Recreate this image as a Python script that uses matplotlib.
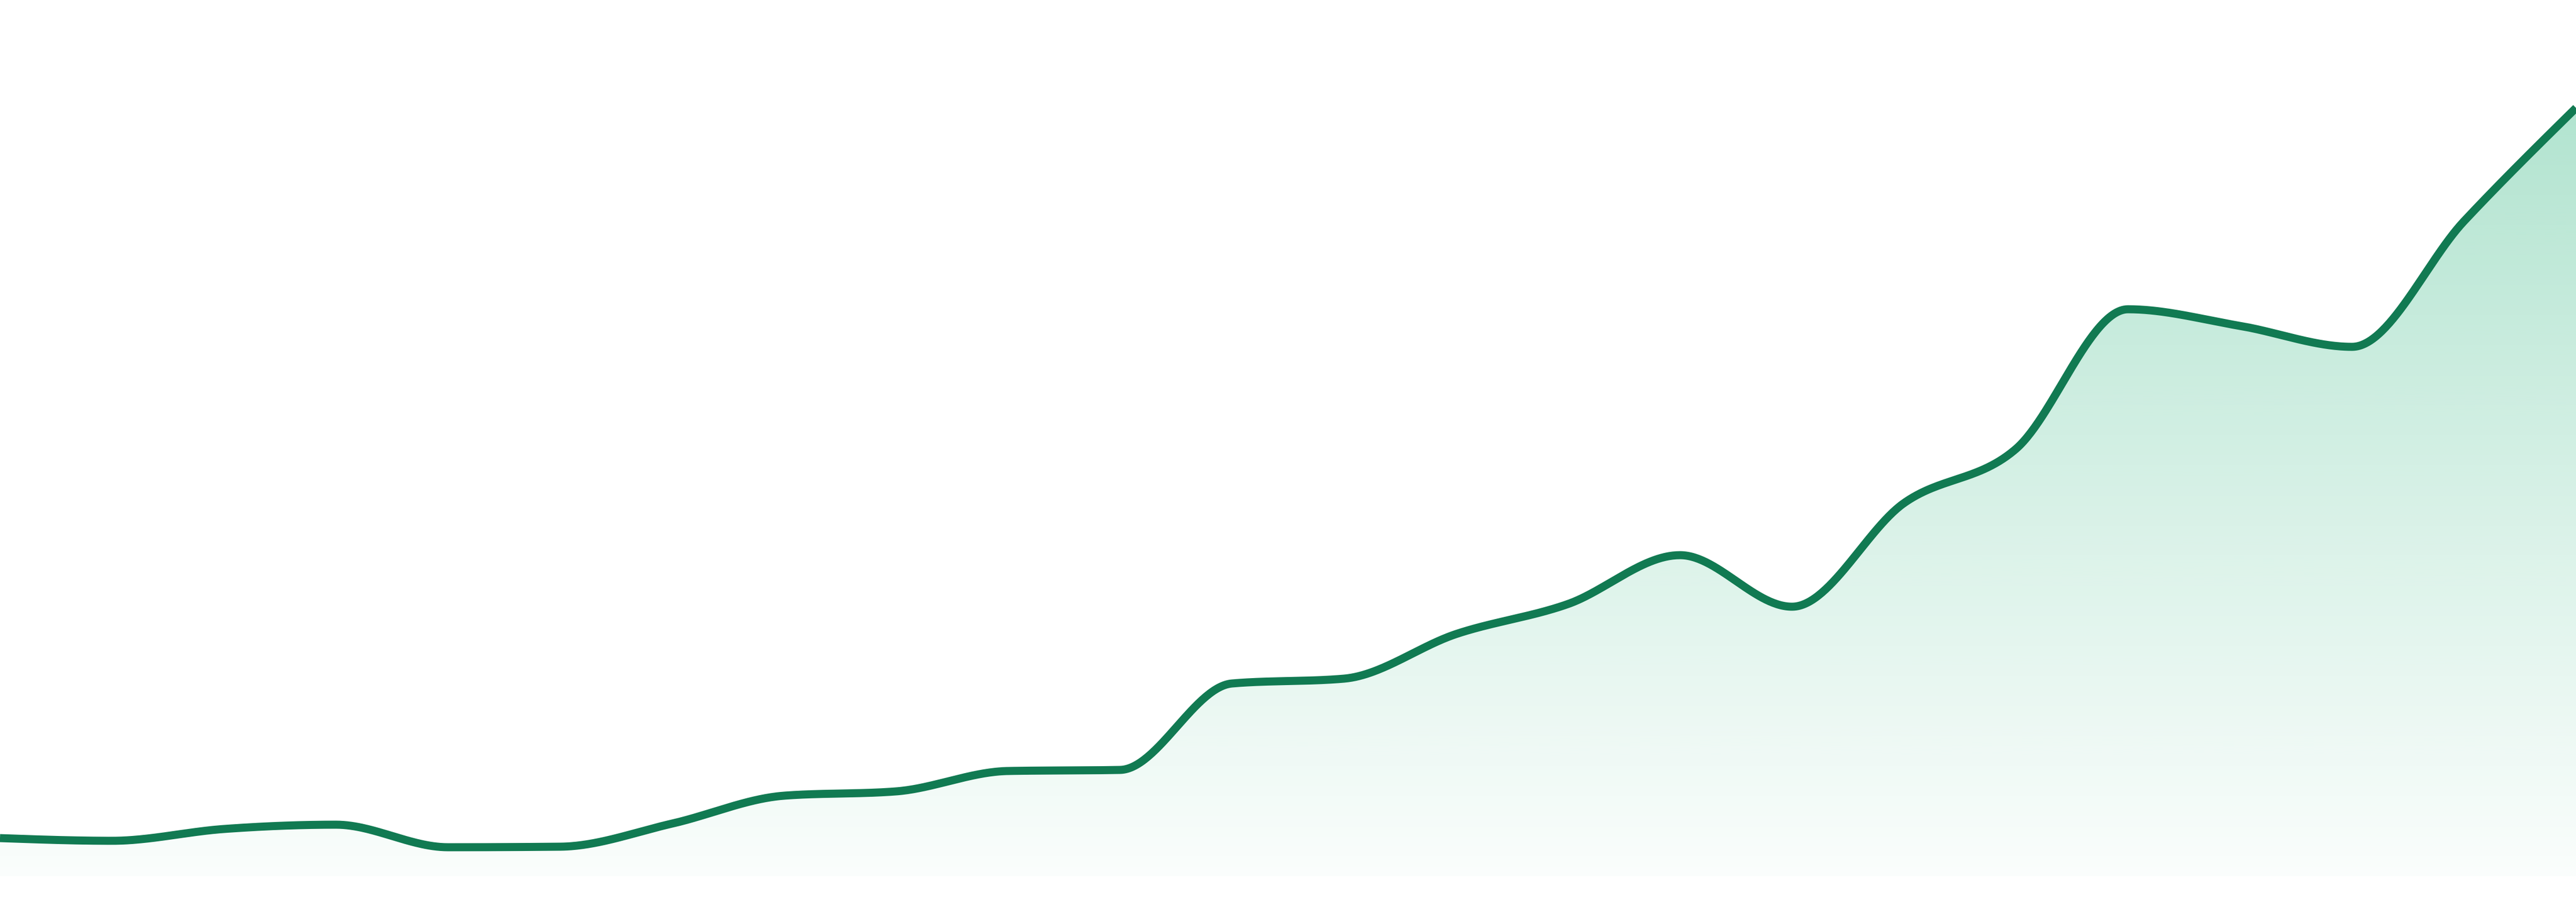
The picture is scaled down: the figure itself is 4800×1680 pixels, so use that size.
import numpy as np
import matplotlib
matplotlib.use('Agg')
import matplotlib.pyplot as plt


# values, one per evenly spaced step
steps = list(range(24))
values = [
    7.1, 6.6, 8.8, 9.6, 5.4, 5.5, 9.8, 15.0, 15.8, 19.6, 19.8, 35.9,
    36.8, 45.1, 50.7, 59.8, 50.2, 69.5, 79.6, 105.6, 102.5, 98.6, 122.0, 143.1,
]

line_color = '#117a52'
fill_rgb = (15 / 255, 171 / 255, 108 / 255)
fill_alpha_top = 0.32
fill_alpha_bottom = 0.02


def monotone_x(x, y, per_segment=60):
    # same idea as d3.curveMonotoneX (Steffen style tangents)
    x = np.asarray(x, dtype=float)
    y = np.asarray(y, dtype=float)
    h = np.diff(x)
    s = np.diff(y) / h
    n = len(x)
    t = np.zeros(n)
    for i in range(1, n - 1):
        h0, h1 = h[i - 1], h[i]
        s0, s1 = s[i - 1], s[i]
        p = (s0 * h1 + s1 * h0) / (h0 + h1)
        t[i] = (np.sign(s0) + np.sign(s1)) * min(abs(s0), abs(s1), 0.5 * abs(p))
    t[0] = (3 * s[0] - t[1]) / 2
    t[-1] = (3 * s[-1] - t[-2]) / 2

    xs, ys = [], []
    for i in range(n - 1):
        u = np.linspace(0, 1, per_segment, endpoint=(i == n - 2))
        dx = h[i]
        h00 = 2 * u**3 - 3 * u**2 + 1
        h10 = u**3 - 2 * u**2 + u
        h01 = -2 * u**3 + 3 * u**2
        h11 = u**3 - u**2
        xs.append(x[i] + u * dx)
        ys.append(h00 * y[i] + h10 * dx * t[i] + h01 * y[i + 1] + h11 * dx * t[i + 1])
    return np.concatenate(xs), np.concatenate(ys)


fig = plt.figure(figsize=(16, 5.6), dpi=300)
ax = fig.add_axes([0, 0, 1, 1])
ax.set_xlim(steps[0], steps[-1])
ax.set_ylim(-4.8, 163.2)
ax.axis('off')

xs, ys = monotone_x(steps, values)

area = ax.fill_between(xs, 0, ys, color='none', linewidth=0)

# vertical gradient, strongest at the top of the area
top = max(values)
rows = 512
alpha = np.linspace(fill_alpha_bottom, fill_alpha_top, rows)[:, None]
grad = np.zeros((rows, 1, 4))
grad[..., 0] = fill_rgb[0]
grad[..., 1] = fill_rgb[1]
grad[..., 2] = fill_rgb[2]
grad[..., 3] = alpha
img = ax.imshow(
    grad, extent=(steps[0], steps[-1], 0, top), origin='lower',
    aspect='auto', interpolation='bilinear', zorder=1
)
img.set_clip_path(area.get_paths()[0], transform=ax.transData)

ax.plot(xs, ys, color=line_color, linewidth=3.6, solid_capstyle='butt', zorder=2)

fig.savefig('out.png', dpi=300, facecolor='white')
